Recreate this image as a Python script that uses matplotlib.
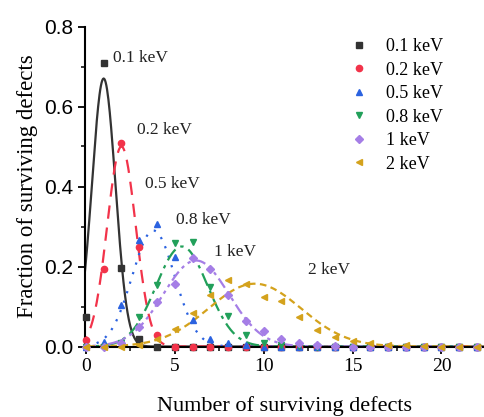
import numpy as np
import matplotlib
matplotlib.use("Agg")
import matplotlib.pyplot as plt
from matplotlib.ticker import MultipleLocator

# surviving-defect counts and fractions
n_defects = list(range(23))
energies = ["0.1 keV", "0.2 keV", "0.5 keV", "0.8 keV", "1 keV", "2 keV"]

frac_01 = [0.075, 0.71, 0.196, 0.02, 0, 0, 0, 0, 0, 0, 0, 0, 0, 0, 0, 0,
           0, 0, 0, 0, 0, 0, 0]
frac_02 = [0.016, 0.195, 0.51, 0.25, 0.03, 0, 0, 0, 0, 0, 0, 0, 0, 0, 0,
           0, 0, 0, 0, 0, 0, 0, 0]
frac_05 = [0, 0.012, 0.104, 0.266, 0.306, 0.225, 0.066, 0.02, 0.008,
           0.003, 0, 0, 0, 0, 0, 0, 0, 0, 0, 0, 0, 0, 0]
frac_08 = [0, 0, 0.01, 0.074, 0.154, 0.26, 0.262, 0.15, 0.077, 0.028,
           0.009, 0.003, 0.001, 0, 0, 0, 0, 0, 0, 0, 0, 0, 0]
frac_1 = [0, 0, 0.01, 0.05, 0.112, 0.156, 0.222, 0.193, 0.129, 0.064,
          0.039, 0.019, 0.008, 0.004, 0.002, 0, 0, 0, 0, 0, 0, 0, 0]
frac_2 = [0, 0, 0, 0.005, 0.02, 0.045, 0.085, 0.128, 0.166, 0.156, 0.123,
          0.113, 0.073, 0.041, 0.023, 0.015, 0.008, 0.005, 0.005, 0.002,
          0, 0, 0]

# Gaussian fit parameters
fit_peak = [0.67, 0.50, 0.29, 0.25, 0.215, 0.157]
fit_center = [1.0, 2.0, 3.8, 5.4, 6.2, 9.5]
fit_sigma = [0.66, 0.80, 1.20, 1.45, 1.85, 2.6]

# label positions (data coords)
label_x = [1.5, 2.85, 3.35, 5.05, 7.2, 12.5]
label_y = [0.72, 0.54, 0.405, 0.315, 0.235, 0.19]

series = [frac_01, frac_02, frac_05, frac_08, frac_1, frac_2]
colors = ["#333333", "#f2334a", "#2b62e0", "#22a05a", "#a57ee6", "#d4a21c"]
markers = ["s", "o", "^", "v", "D", "<"]
msizes = [4, 4.5, 5, 5, 4, 5]
dashes = [None, (6, 4), (1, 3.5), (6, 2.5, 1.5, 2.5), (5, 2, 1.5, 2, 1.5, 2),
          (3, 2)]

serif = "Liberation Serif"
sans = "Liberation Sans"

fig = plt.figure(figsize=(4.85, 4.17), dpi=100)
ax = fig.add_axes([85 / 485, 70.5 / 417, 400 / 485, 320 / 417])

xs = np.linspace(-0.5, 22.5, 600)
handles = []
for i, lab in enumerate(energies):
    fit = fit_peak[i] * np.exp(-(xs - fit_center[i]) ** 2 / (2 * fit_sigma[i] ** 2))
    ln, = ax.plot(xs, fit, color=colors[i], lw=1.6, zorder=2)
    if dashes[i] is not None:
        ln.set_dashes(dashes[i])
    h, = ax.plot(n_defects, series[i], ls="none", marker=markers[i],
                 ms=msizes[i], color=colors[i], mec=colors[i], zorder=3,
                 clip_on=False, label=lab)
    handles.append(h)
    ax.text(label_x[i], label_y[i], lab, fontsize=12.5, family=serif,
            va="center", ha="left", color="#222222")

ax.set_xlim(-0.05, 22.45)
ax.set_ylim(0, 0.8)
ax.xaxis.set_major_locator(MultipleLocator(5))
ax.xaxis.set_minor_locator(MultipleLocator(2.5))
ax.yaxis.set_major_locator(MultipleLocator(0.2))
ax.yaxis.set_minor_locator(MultipleLocator(0.1))
ax.spines["top"].set_visible(False)
ax.spines["right"].set_visible(False)
for s in ("left", "bottom"):
    ax.spines[s].set_linewidth(1.5)
ax.tick_params(which="major", direction="out", length=5, width=1.3)
ax.tick_params(which="minor", direction="out", length=3, width=1.1)
ax.set_yticks([0, 0.2, 0.4, 0.6, 0.8])
ax.set_yticklabels(["0.0", "0.2", "0.4", "0.6", "0.8"], family=sans,
                   fontsize=15)
ax.set_xticks([0, 5, 10, 15, 20])
ax.set_xticklabels(["0", "5", "10", "15", "20"], family=serif, fontsize=14)
ax.set_xlabel("Number of surviving defects", family=serif, fontsize=16,
              labelpad=15)
ax.set_ylabel("Fraction of surviving defects", family=serif, fontsize=16.5,
              labelpad=4)

ax.legend(handles=handles, loc="upper left", bbox_to_anchor=(339 / 485, 1 - 29 / 417),
          bbox_transform=fig.transFigure, frameon=False,
          prop={"family": serif, "size": 13}, handlelength=1.2,
          handletextpad=0.9, labelspacing=0.36, borderpad=0)

fig.savefig("out.png", dpi=100)
